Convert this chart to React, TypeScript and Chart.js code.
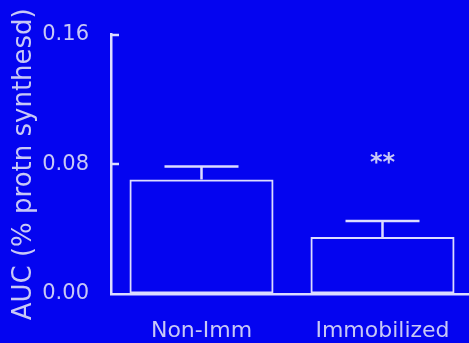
import React, { useEffect, useRef } from "react";
import { Chart, registerables } from "chart.js";

Chart.register(...registerables);

const categories = ["Non-Imm", "Immobilized"];
const means = [0.0707, 0.0352];
const errors = [0.0079, 0.0098];
const significance = ["", "**"];
const yTickValues = [0, 0.08, 0.16];
const yAxisTitle = "AUC (% protn synthesd)";

const BG = "#0404F0";
const LINE = "#DCDCFF";
const TEXT = "#C8C8F6";
const FONT = "'DejaVu Sans', sans-serif";

export default function App() {
  const ref = useRef<HTMLCanvasElement>(null);

  useEffect(() => {
    if (!ref.current) return;
    const overlay = {
      id: "overlay",
      afterDatasetsDraw(chart: any) {
        const ctx = chart.ctx;
        const y = chart.scales.y;
        const meta = chart.getDatasetMeta(0);
        ctx.save();
        ctx.strokeStyle = LINE;
        ctx.lineWidth = 2.5;
        const x0 = chart.chartArea.left;
        yTickValues.forEach((v) => {
          if (v === 0) return;
          const py = Math.round(y.getPixelForValue(v));
          ctx.beginPath();
          ctx.moveTo(x0, py);
          ctx.lineTo(x0 + 8, py);
          ctx.stroke();
        });
        meta.data.forEach((bar: any, i: number) => {
          const top = y.getPixelForValue(means[i]);
          const cap = y.getPixelForValue(means[i] + errors[i]);
          ctx.beginPath();
          ctx.moveTo(bar.x, top);
          ctx.lineTo(bar.x, cap);
          ctx.moveTo(bar.x - 37, cap);
          ctx.lineTo(bar.x + 37, cap);
          ctx.stroke();
          if (significance[i]) {
            ctx.fillStyle = TEXT;
            ctx.font = `bold 24px ${FONT}`;
            ctx.textAlign = "center";
            ctx.textBaseline = "middle";
            ctx.fillText(significance[i], bar.x, cap - 57);
          }
        });
        ctx.restore();
      },
    };

    const chart = new Chart(ref.current, {
      type: "bar",
      data: {
        labels: categories,
        datasets: [
          {
            data: means,
            backgroundColor: "rgba(0,0,0,0)",
            borderColor: LINE,
            borderWidth: 2,
            borderSkipped: false,
            barPercentage: 0.796,
            categoryPercentage: 1,
          },
        ],
      },
      options: {
        animation: false,
        responsive: true,
        maintainAspectRatio: false,
        layout: { padding: { left: 0, right: 1, top: 32, bottom: 0 } },
        plugins: { legend: { display: false }, tooltip: { enabled: false } },
        scales: {
          x: {
            grid: { display: true, drawOnChartArea: false, drawTicks: false },
            border: { display: true, color: LINE, width: 2.5 },
            ticks: {
              color: TEXT,
              font: { family: FONT, size: 22 },
              padding: 24,
              maxRotation: 0,
            },
            afterFit: (s: any) => {
              s.height = 49;
            },
          },
          y: {
            min: 0,
            max: 0.16,
            grid: { display: true, drawOnChartArea: false, drawTicks: false },
            border: { display: true, color: LINE, width: 2.5 },
            afterBuildTicks: (s: any) => {
              s.ticks = yTickValues.map((v) => ({ value: v }));
            },
            ticks: {
              color: TEXT,
              font: { family: FONT, size: 21 },
              padding: 22,
              callback: (v: any) => Number(v).toFixed(2),
            },
            title: {
              display: true,
              text: yAxisTitle,
              color: TEXT,
              font: { family: FONT, size: 26 },
              padding: { top: 9, bottom: 0 },
            },
            afterFit: (s: any) => {
              s.width = 111;
            },
          },
        },
      },
      plugins: [overlay],
    });
    return () => chart.destroy();
  }, []);

  return (
    <div
      style={{
        position: "fixed",
        left: 0,
        top: 0,
        width: 469,
        height: 343,
        overflow: "hidden",
        background: BG,
      }}
    >
      <div style={{ position: "relative", width: 474, height: 343 }}>
        <canvas ref={ref} />
      </div>
    </div>
  );
}
